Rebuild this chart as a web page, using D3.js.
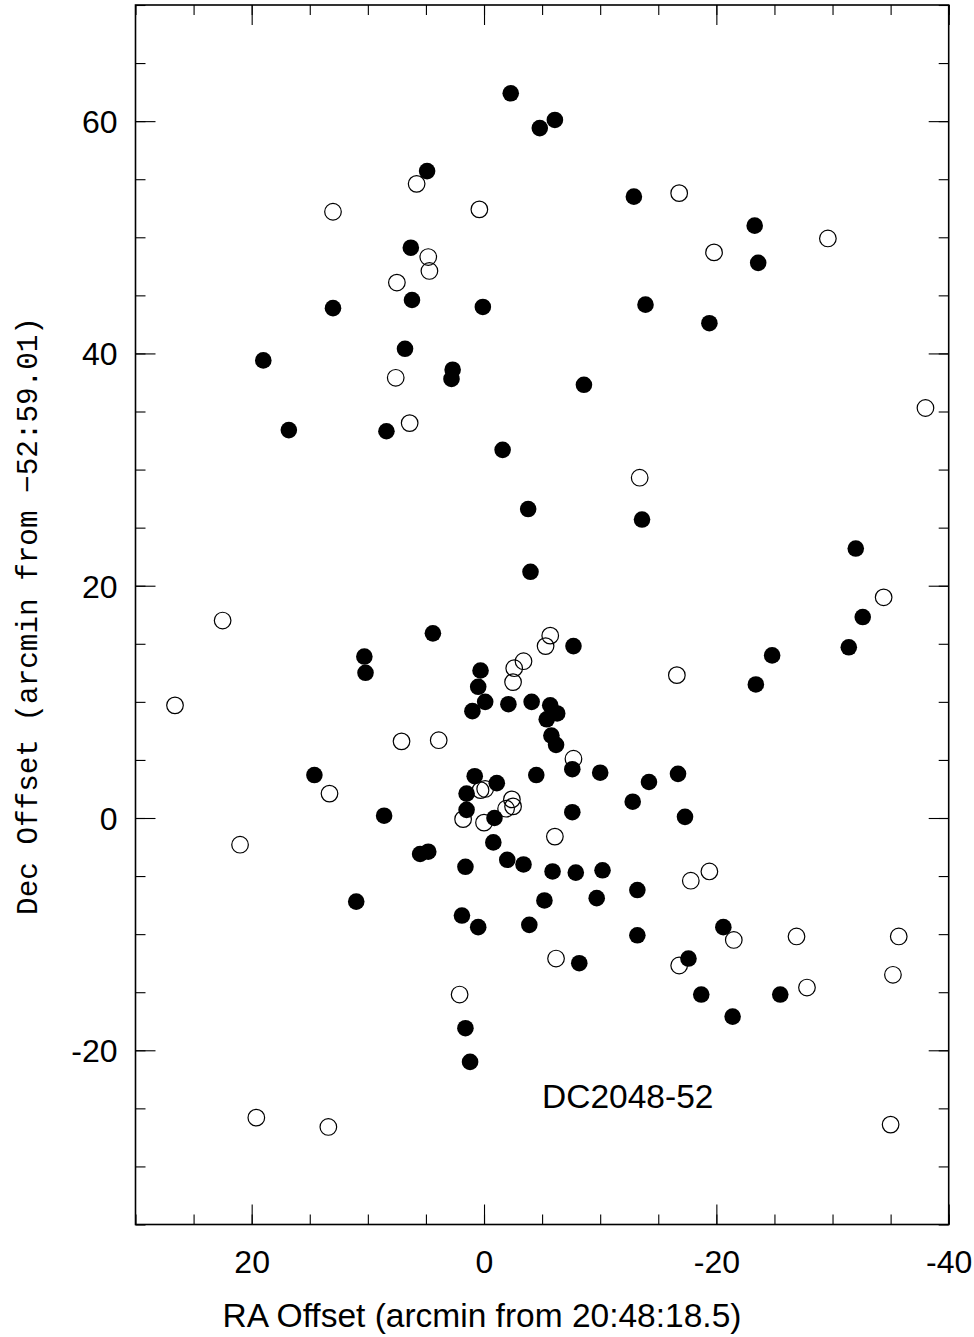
<!DOCTYPE html>
<html>
<head>
<meta charset="utf-8">
<script src="https://cdn.jsdelivr.net/npm/d3@7"></script>
<style>
  html, body { margin: 0; padding: 0; background: #fff; }
  svg { display: block; }
</style>
</head>
<body>
<svg id="chart" width="974" height="1337"></svg>
<script>
// ---- Data (RA offset, Dec offset in arcmin) ----
const filledRA = [
  -2.3, -6.1, -4.8, 4.9, -12.9, -23.3, 6.3, -23.6, 6.2, 13.0,
  0.1, -13.9, -19.4, 19.0, 6.8, 2.7, 2.8, -8.6, 16.8, 8.4,
  -1.6, -3.8, -13.6, -4.0, -32.0, -32.6, -31.4, -24.8, -23.4, 4.4,
  -7.7, 10.3, 10.2, 0.3, 0.5, -0.1, 1.0, -2.1, -4.1, -5.7,
  -6.3, -5.4, -5.8, -6.2, -7.6, -10.0, -4.5, -14.2, -16.7, 0.8,
  -1.1, 1.5, 14.6, 1.5, -0.9, -7.6, -12.8, -17.3, 8.6, 5.5,
  4.8, -0.8, 1.6, -2.0, -3.4, -5.9, -7.9, -10.2, -13.2, -5.2,
  -9.7, 11.0, 1.9, 0.5, -3.9, -13.2, -20.6, -8.2, -17.6, -18.7,
  -25.5, -21.4, 1.6, 1.2
];
const filledDec = [
  62.4, 60.1, 59.4, 55.7, 53.5, 51.0, 49.1, 47.8, 44.6, 43.9,
  44.0, 44.2, 42.6, 39.4, 40.4, 38.6, 37.8, 37.3, 33.4, 33.3,
  31.7, 26.6, 25.7, 21.2, 23.2, 17.3, 14.7, 14.0, 11.5, 15.9,
  14.8, 13.9, 12.5, 12.7, 11.3, 10.0, 9.2, 9.8, 10.0, 9.7,
  9.0, 8.5, 7.1, 6.3, 4.2, 3.9, 3.7, 3.1, 3.8, 3.6,
  3.0, 2.1, 3.7, 0.7, 0.0, 0.5, 1.4, 0.1, 0.2, -3.1,
  -2.9, -2.1, -4.2, -3.6, -4.0, -4.6, -4.7, -4.5, -6.2, -7.1,
  -6.9, -7.2, -8.4, -9.4, -9.2, -10.1, -9.4, -12.5, -12.1, -15.2,
  -15.2, -17.1, -18.1, -21.0
];
const openRA = [
  5.8, 13.0, 0.4, -16.8, -19.8, -29.6, 4.8, 4.7, 7.5, 7.6,
  -38.0, 6.4, -13.4, -34.4, 22.5, -5.7, -5.3, -3.4, -2.6, -2.5,
  -16.6, 26.6, 7.1, 3.9, -7.7, 13.3, 0.3, -0.1, -2.4, -2.5,
  -1.9, 1.8, 0.0, -6.1, 21.0, -17.8, -19.4, -21.5, -26.9, -35.7,
  -35.2, -27.8, -6.2, -16.8, 2.1, 19.6, 13.4, -35.0
];
const openDec = [
  54.6, 52.2, 52.4, 53.8, 48.7, 49.9, 48.3, 47.1, 46.1, 37.9,
  35.3, 34.0, 29.3, 19.0, 17.0, 15.7, 14.8, 13.5, 12.9, 11.7,
  12.3, 9.7, 6.6, 6.7, 5.1, 2.1, 2.4, 2.5, 1.6, 1.0,
  0.8, -0.1, -0.4, -1.6, -2.3, -5.4, -4.6, -10.5, -10.2, -10.2,
  -13.5, -14.6, -12.1, -12.7, -15.2, -25.8, -26.6, -26.4
];

const xMajorTicks = [20, 0, -20, -40];
const yMajorTicks = [-20, 0, 20, 40, 60];
const xMinorTicks = d3.range(30, -40.1, -5);
const yMinorTicks = d3.range(-35, 70.1, 5);
const xTitle = "RA Offset (arcmin from 20:48:18.5)";
const yTitle = "Dec Offset (arcmin from \u221252:59.01)";
const fieldLabel = { text: "DC2048-52", ra: -5, dec: -25 };

// ---- Layout ----
const plot = { left: 135.5, right: 948.7, top: 5, bottom: 1224.5 };
const svg = d3.select("#chart");

const x = d3.scaleLinear().domain([30, -40]).range([plot.left, plot.right]);
const y = d3.scaleLinear().domain([-35, 70]).range([plot.bottom, plot.top]);

const majorLen = 20, minorLen = 10;
const fmt = d => String(d);

function styleAxis(g) {
  g.select(".domain").remove();
  g.selectAll(".tick line").attr("stroke", "#000").attr("stroke-width", 1.1);
}

// minor ticks (all four sides)
svg.append("g").attr("transform", `translate(0,${plot.bottom})`)
  .call(d3.axisBottom(x).tickValues(xMinorTicks).tickSize(-minorLen).tickFormat(""))
  .call(styleAxis);
svg.append("g").attr("transform", `translate(0,${plot.top})`)
  .call(d3.axisTop(x).tickValues(xMinorTicks).tickSize(-minorLen).tickFormat(""))
  .call(styleAxis);
svg.append("g").attr("transform", `translate(${plot.left},0)`)
  .call(d3.axisLeft(y).tickValues(yMinorTicks).tickSize(-minorLen).tickFormat(""))
  .call(styleAxis);
svg.append("g").attr("transform", `translate(${plot.right},0)`)
  .call(d3.axisRight(y).tickValues(yMinorTicks).tickSize(-minorLen).tickFormat(""))
  .call(styleAxis);

// major ticks with labels
const fontSans = "'Liberation Sans', Arial, Helvetica, sans-serif";
svg.append("g").attr("transform", `translate(0,${plot.bottom})`)
  .call(d3.axisBottom(x).tickValues(xMajorTicks).tickSize(-majorLen).tickPadding(26).tickFormat(fmt))
  .call(styleAxis)
  .call(g => g.selectAll("text").attr("font-family", fontSans).attr("font-size", 32).attr("fill", "#000"));
svg.append("g").attr("transform", `translate(0,${plot.top})`)
  .call(d3.axisTop(x).tickValues(xMajorTicks).tickSize(-majorLen).tickFormat(""))
  .call(styleAxis);
svg.append("g").attr("transform", `translate(${plot.left},0)`)
  .call(d3.axisLeft(y).tickValues(yMajorTicks).tickSize(-majorLen).tickPadding(18).tickFormat(fmt))
  .call(styleAxis)
  .call(g => g.selectAll("text").attr("font-family", fontSans).attr("font-size", 32).attr("fill", "#000").attr("dy", "0.36em"));
svg.append("g").attr("transform", `translate(${plot.right},0)`)
  .call(d3.axisRight(y).tickValues(yMajorTicks).tickSize(-majorLen).tickFormat(""))
  .call(styleAxis);

// frame
svg.append("rect")
  .attr("x", plot.left).attr("y", plot.top)
  .attr("width", plot.right - plot.left).attr("height", plot.bottom - plot.top)
  .attr("fill", "none").attr("stroke", "#000").attr("stroke-width", 1.6);

// points
const filled = filledRA.map((d, i) => ({ ra: d, dec: filledDec[i] }));
const open = openRA.map((d, i) => ({ ra: d, dec: openDec[i] }));
const r = 8.3;

svg.append("g").selectAll("circle").data(filled).join("circle")
  .attr("cx", d => x(d.ra)).attr("cy", d => y(d.dec)).attr("r", r)
  .attr("fill", "#000");
svg.append("g").selectAll("circle").data(open).join("circle")
  .attr("cx", d => x(d.ra)).attr("cy", d => y(d.dec)).attr("r", r)
  .attr("fill", "none").attr("stroke", "#000").attr("stroke-width", 1.2);

// field label
svg.append("text")
  .attr("x", x(fieldLabel.ra)).attr("y", y(fieldLabel.dec))
  .attr("font-family", fontSans).attr("font-size", 33.5).attr("fill", "#000")
  .text(fieldLabel.text);

// axis titles
svg.append("text")
  .attr("x", 482).attr("y", 1327)
  .attr("text-anchor", "middle")
  .attr("font-family", fontSans).attr("font-size", 33.5).attr("fill", "#000")
  .text(xTitle);
svg.append("text")
  .attr("transform", "translate(37,616) rotate(-90)")
  .attr("text-anchor", "middle")
  .attr("font-family", "'Liberation Mono', 'Courier New', monospace").attr("font-size", 29.3).attr("fill", "#000")
  .text(yTitle);
</script>
</body>
</html>
